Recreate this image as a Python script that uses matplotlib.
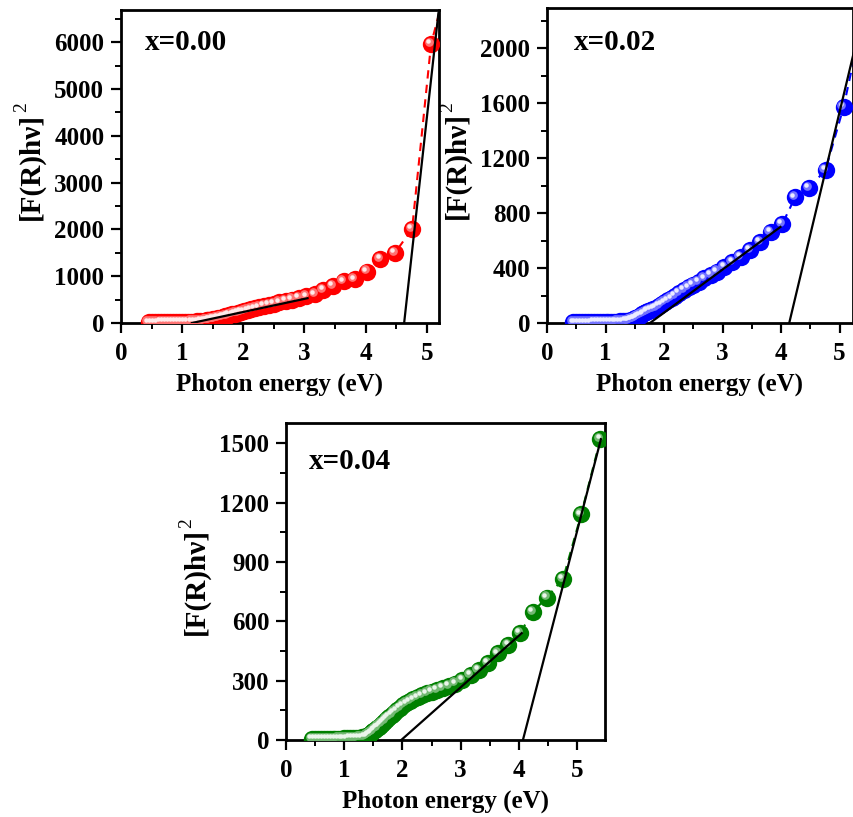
import numpy as np
import matplotlib
matplotlib.use("Agg")
import matplotlib.pyplot as plt
from matplotlib.ticker import MultipleLocator
from matplotlib.transforms import offset_copy
from matplotlib.colors import to_rgb

plt.rcParams['font.family'] = ['Liberation Serif', 'DejaVu Serif']
plt.rcParams['font.weight'] = 'bold'

# ---------------- data ----------------
energy = [5.40, 5.07, 4.76, 4.48, 4.24, 4.02, 3.82, 3.64, 3.47, 3.31, 3.17, 3.03,
          2.91, 2.80, 2.69, 2.59, 2.50, 2.42, 2.34, 2.26, 2.19, 2.13, 2.07, 2.01,
          1.96, 1.91, 1.86, 1.82, 1.77, 1.73, 1.70, 1.66, 1.63, 1.59, 1.56, 1.53,
          1.50, 1.48, 1.45, 1.43, 1.40, 1.38, 1.35, 1.30, 1.25, 1.20, 1.15, 1.10,
          1.05, 1.00, 0.95, 0.90, 0.85, 0.80, 0.75, 0.70, 0.65, 0.60, 0.55, 0.50, 0.45]

y_x000 = [7600, 5960, 2010, 1500, 1370, 1100, 930, 890, 790, 700, 610, 570,
          530, 500, 470, 440, 410, 385, 360, 335, 310, 290, 270, 250,
          230, 215, 200, 185, 170, 155, 140, 128, 115, 105, 95, 87,
          80, 72, 66, 60, 55, 50, 45, 40, 36, 32, 29, 26,
          24, 22, 21, 20, 19, 18, 17, 16, 16, 15, 15, 15, 15]

y_x002 = [2230, 1575, 1115, 985, 915, 720, 665, 590, 530, 482, 445, 408,
          375, 350, 325, 300, 280, 260, 240, 218, 198, 180, 165, 150,
          135, 122, 110, 100, 93, 86, 79, 70, 62, 54, 46, 39,
          33, 28, 24, 21, 18, 16, 14, 12, 11, 10, 9, 8,
          8, 7, 7, 6, 6, 6, 5, 5, 5, 5, 5, 5, 5]

y_x004 = [1520, 1140, 815, 720, 648, 540, 480, 438, 390, 355, 328, 303,
          285, 272, 262, 253, 245, 236, 226, 215, 205, 195, 185, 175,
          163, 150, 138, 127, 115, 105, 96, 86, 78, 68, 60, 52,
          45, 38, 32, 27, 22, 18, 15, 13, 12, 11, 10, 9,
          8, 8, 7, 7, 6, 6, 6, 5, 5, 5, 5, 5, 5]

# Tangent (Tauc) fit lines: [(x0, y0), (x1, y1)]
fit_x000 = [[(1.16, 0), (3.05, 530)], [(4.63, 0), (5.19, 6620)]]
fit_x002 = [[(1.76, 0), (3.99, 700)], [(4.14, 0), (5.24, 1965)]]
fit_x004 = [[(1.98, 0), (4.05, 540)], [(4.07, 0), (5.41, 1520)]]

labels = ["x=0.00", "x=0.02", "x=0.04"]
colors = ["#ff0000", "#0000ff", "#008000"]

# ---------------- figure ----------------
W, H = 854, 817
fig = plt.figure(figsize=(W / 100, H / 100), dpi=100)

def rect(l, t, r, b):
    return [l / W, (H - b) / H, (r - l) / W, (b - t) / H]

ax1 = fig.add_axes(rect(121, 10, 439, 323))
ax2 = fig.add_axes(rect(547, 8, 853, 323))
ax3 = fig.add_axes(rect(286, 423, 605, 740))

def mix(c, f):
    r, g, b = to_rgb(c)
    return (r + (1 - r) * f, g + (1 - g) * f, b + (1 - b) * f)

def balls(ax, x, y, color, ms=12.5):
    ax.plot(x, y, linestyle=(0, (4, 3)), color=color, lw=1.5, zorder=2)
    ax.plot(x, y, 'o', ms=ms, color=color, mec=color, mew=0, zorder=3)
    t1 = offset_copy(ax.transData, fig=fig, x=-1.6, y=1.6, units='points')
    ax.plot(x, y, 'o', ms=ms * 0.5, color=mix(color, 0.45), mew=0,
            transform=t1, zorder=4)
    t2 = offset_copy(ax.transData, fig=fig, x=-2.0, y=2.0, units='points')
    ax.plot(x, y, 'o', ms=ms * 0.26, color=mix(color, 0.92), mew=0,
            transform=t2, zorder=5)

def style(ax, xmax, ymax, ystep, yminor, label, ypos):
    ax.set_xlim(0, xmax)
    ax.set_ylim(0, ymax)
    ax.xaxis.set_major_locator(MultipleLocator(1))
    ax.xaxis.set_minor_locator(MultipleLocator(0.5))
    ax.yaxis.set_major_locator(MultipleLocator(ystep))
    ax.yaxis.set_minor_locator(MultipleLocator(yminor))
    ax.set_yticks(np.arange(0, ymax, ystep))
    for s in ax.spines.values():
        s.set_linewidth(2.0)
    ax.tick_params(which='both', direction='out', top=False, right=False,
                   labelsize=18)
    ax.tick_params(which='major', length=7, width=1.6)
    ax.tick_params(which='minor', length=4, width=1.4)
    ax.tick_params(axis='x', which='major', pad=7)
    ax.tick_params(axis='y', which='major', pad=5)
    for lab in ax.get_xticklabels() + ax.get_yticklabels():
        lab.set_fontweight('bold')
    ax.set_xlabel("Photon energy (eV)", fontsize=18, fontweight='bold', labelpad=5)
    ax.set_ylabel("[F(R)hν]", fontsize=21, fontweight='bold', labelpad=7)
    ax.text(ypos[0], ypos[1], label, transform=ax.transAxes, fontsize=21,
            fontweight='bold', va='center', ha='left')

panels = [(ax1, y_x000, fit_x000, 5.2, 6690, 1000, 500, (0.075, 0.895)),
          (ax2, y_x002, fit_x002, 5.23, 2295, 400, 200, (0.089, 0.89)),
          (ax3, y_x004, fit_x004, 5.48, 1602, 300, 150, (0.073, 0.88))]

for i, (ax, yv, fits, xm, ym, ys, ymin, pos) in enumerate(panels):
    balls(ax, energy, yv, colors[i])
    for (p0, p1) in fits:
        ax.plot([p0[0], p1[0]], [p0[1], p1[1]], color='black', lw=1.6, zorder=6)
    style(ax, xm, ym, ys, ymin, labels[i], pos)

# superscript "2" of the y labels, placed after layout is known
fig.canvas.draw()
renderer = fig.canvas.get_renderer()
for ax in (ax1, ax2, ax3):
    bb = ax.yaxis.label.get_window_extent(renderer)
    fig.text(bb.x0 - 4, bb.y1 + 0.5, "2", transform=None, rotation=90,
             fontsize=14, fontweight='normal', ha='left', va='bottom')

fig.savefig("out.png", dpi=100)
